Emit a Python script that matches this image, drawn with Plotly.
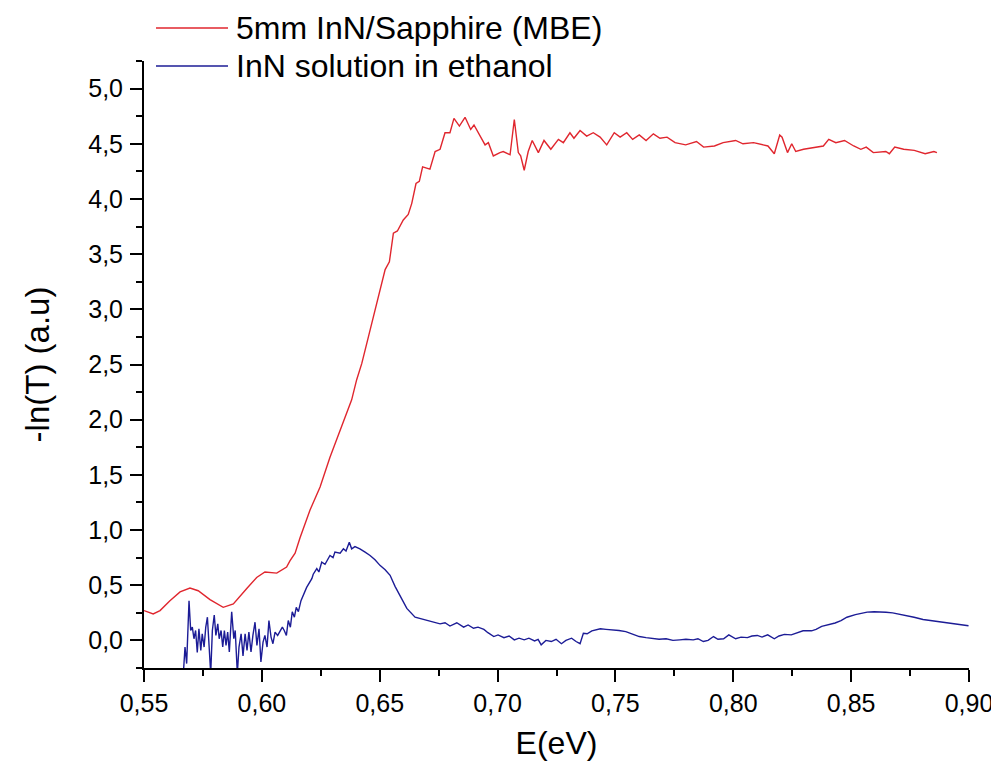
import plotly.graph_objects as go

# ---- data ----
red_name = "5mm InN/Sapphire (MBE)"
red_x = [0.5500, 0.5539, 0.5568, 0.5610, 0.5653, 0.5695, 0.5730, 0.5780, 0.5836, 0.5879,
         0.5936, 0.5978, 0.6013, 0.6063, 0.6105, 0.6119, 0.6141, 0.6162, 0.6204, 0.6247,
         0.6289, 0.6332, 0.6360, 0.6381, 0.6402, 0.6424, 0.6452, 0.6473, 0.6490, 0.6509,
         0.6523, 0.6541, 0.6558, 0.6575, 0.6600, 0.6621, 0.6636, 0.6654, 0.6668, 0.6682,
         0.6713, 0.6735, 0.6756, 0.6777, 0.6798, 0.6815, 0.6838, 0.6862, 0.6886, 0.6900,
         0.6926, 0.6947, 0.6961, 0.6982, 0.7010, 0.7024, 0.7053, 0.7071, 0.7088, 0.7098,
         0.7113, 0.7130, 0.7147, 0.7173, 0.7197, 0.7226, 0.7258, 0.7279, 0.7307, 0.7324,
         0.7350, 0.7378, 0.7406, 0.7435, 0.7463, 0.7495, 0.7520, 0.7548, 0.7573, 0.7601,
         0.7630, 0.7661, 0.7689, 0.7719, 0.7753, 0.7798, 0.7844, 0.7874, 0.7920, 0.7957,
         0.8010, 0.8041, 0.8086, 0.8147, 0.8174, 0.8197, 0.8207, 0.8230, 0.8248, 0.8265,
         0.8298, 0.8344, 0.8382, 0.8405, 0.8435, 0.8472, 0.8511, 0.8541, 0.8564, 0.8594,
         0.8647, 0.8662, 0.8685, 0.8723, 0.8768, 0.8814, 0.8851, 0.8864]
red_y = [0.27, 0.24, 0.27, 0.36, 0.44, 0.475, 0.45, 0.37, 0.30, 0.33,
         0.47, 0.57, 0.62, 0.61, 0.665, 0.72, 0.79, 0.93, 1.18, 1.39,
         1.66, 1.91, 2.06, 2.18, 2.36, 2.51, 2.75, 2.93, 3.05, 3.24,
         3.36, 3.43, 3.69, 3.71, 3.81, 3.86, 3.96, 4.14, 4.16, 4.29,
         4.27, 4.43, 4.45, 4.60, 4.60, 4.73, 4.66, 4.74, 4.63, 4.67,
         4.57, 4.49, 4.51, 4.39, 4.42, 4.43, 4.40, 4.72, 4.42, 4.39,
         4.26, 4.43, 4.53, 4.42, 4.53, 4.45, 4.54, 4.51, 4.60, 4.55,
         4.62, 4.57, 4.60, 4.56, 4.49, 4.60, 4.56, 4.60, 4.54, 4.58,
         4.53, 4.59, 4.55, 4.56, 4.51, 4.49, 4.52, 4.47, 4.48, 4.51,
         4.53, 4.50, 4.51, 4.48, 4.41, 4.58, 4.56, 4.42, 4.50, 4.43,
         4.45, 4.47, 4.48, 4.54, 4.51, 4.53, 4.48, 4.45, 4.47, 4.42,
         4.43, 4.41, 4.47, 4.45, 4.44, 4.41, 4.43, 4.42]

blue_name = "InN solution in ethanol"
blue_x = [0.5667, 0.5674, 0.5681, 0.5691, 0.5698, 0.5705, 0.5712, 0.5719, 0.5726, 0.5733,
          0.5741, 0.5747, 0.5755, 0.5762, 0.5769, 0.5776, 0.5783, 0.5790, 0.5798, 0.5805,
          0.5813, 0.5819, 0.5827, 0.5834, 0.5841, 0.5848, 0.5855, 0.5862, 0.5872, 0.5881,
          0.5887, 0.5896, 0.5903, 0.5912, 0.5920, 0.5929, 0.5937, 0.5945, 0.5954, 0.5962,
          0.5971, 0.5979, 0.5988, 0.5996, 0.6005, 0.6013, 0.6022, 0.6030, 0.6039, 0.6047,
          0.6056, 0.6067, 0.6078, 0.6087, 0.6095, 0.6104, 0.6112, 0.6121, 0.6129, 0.6138,
          0.6146, 0.6155, 0.6166, 0.6176, 0.6190, 0.6212, 0.6218, 0.6233, 0.6242, 0.6254,
          0.6268, 0.6289, 0.6302, 0.6310, 0.6332, 0.6346, 0.6357, 0.6371, 0.6381, 0.6395,
          0.6416, 0.6438, 0.6459, 0.6480, 0.6501, 0.6523, 0.6544, 0.6565, 0.6586, 0.6615,
          0.6650, 0.6699, 0.6726, 0.6756, 0.6777, 0.6798, 0.6827, 0.6856, 0.6875, 0.6898,
          0.6917, 0.6942, 0.6959, 0.6984, 0.7002, 0.7027, 0.7049, 0.7071, 0.7091, 0.7113,
          0.7133, 0.7157, 0.7172, 0.7185, 0.7205, 0.7228, 0.7248, 0.7271, 0.7290, 0.7314,
          0.7333, 0.7350, 0.7364, 0.7380, 0.7400, 0.7436, 0.7460, 0.7486, 0.7515, 0.7544,
          0.7570, 0.7601, 0.7630, 0.7658, 0.7685, 0.7715, 0.7744, 0.7773, 0.7799, 0.7830,
          0.7850, 0.7873, 0.7893, 0.7916, 0.7935, 0.7959, 0.7981, 0.8010, 0.8033, 0.8060,
          0.8079, 0.8102, 0.8122, 0.8146, 0.8174, 0.8194, 0.8217, 0.8246, 0.8270, 0.8296,
          0.8332, 0.8351, 0.8375, 0.8402, 0.8432, 0.8457, 0.8482, 0.8518, 0.8542, 0.8568,
          0.8597, 0.8626, 0.8648, 0.8676, 0.8703, 0.8733, 0.8767, 0.8805, 0.8839, 0.8877,
          0.8911, 0.8948, 0.8970, 0.8998]
blue_y = [-0.30, -0.06, -0.21, 0.36, 0.09, 0.12, 0.015, 0.09, -0.11, 0.105,
          -0.09, 0.06, -0.06, 0.12, 0.21, -0.06, -0.30, 0.09, 0.23, 0.045,
          0.15, 0.015, 0.09, -0.06, 0.09, -0.045, 0.075, -0.105, 0.26, 0.015,
          0.09, -0.30, -0.06, 0.06, -0.14, 0.06, -0.09, 0.075, -0.105, 0.045,
          0.165, -0.045, 0.105, -0.195, -0.015, 0.045, -0.06, 0.18, 0.03, -0.03,
          0.075, 0.045, 0.09, 0.12, 0.09, 0.045, 0.18, 0.12, 0.26, 0.21,
          0.30, 0.26, 0.36, 0.41, 0.48, 0.56, 0.60, 0.65, 0.62, 0.71,
          0.69, 0.77, 0.75, 0.80, 0.79, 0.83, 0.81, 0.89, 0.83, 0.85,
          0.83, 0.80, 0.77, 0.73, 0.68, 0.64, 0.59, 0.49, 0.41, 0.29,
          0.21, 0.18, 0.17, 0.15, 0.16, 0.13, 0.16, 0.12, 0.14, 0.11,
          0.12, 0.10, 0.07, 0.035, 0.05, 0.025, 0.04, 0.005, 0.02, 0.005,
          0.02, -0.005, 0.01, -0.04, 0.0, -0.01, 0.01, -0.03, 0.0, 0.02,
          -0.01, -0.03, 0.065, 0.06, 0.087, 0.105, 0.10, 0.096, 0.09, 0.08,
          0.06, 0.035, 0.025, 0.02, 0.01, 0.015, 0.0, 0.005, 0.01, 0.005,
          0.015, -0.01, 0.0, 0.035, 0.01, 0.015, 0.05, 0.015, 0.03, 0.025,
          0.04, 0.045, 0.03, 0.05, 0.015, 0.04, 0.055, 0.05, 0.07, 0.087,
          0.087, 0.10, 0.127, 0.14, 0.158, 0.18, 0.21, 0.234, 0.245, 0.256,
          0.26, 0.26, 0.255, 0.25, 0.24, 0.225, 0.21, 0.19, 0.18, 0.17,
          0.16, 0.15, 0.14, 0.133]

x_title = "E(eV)"
y_title = "-ln(T) (a.u)"

RED = "#e0262e"
BLUE = "#1c1c96"
FONT = "Arial, Liberation Sans, sans-serif"

# The page body has an 8 px margin; figure sized to end at the window's right edge.
OFF = 8
W, H = 991, 754
L, R, T, B = 136, 30, 53, 94
pw, ph = W - L - R, H - T - B

def px_to_paper_x(px):  # px in window coordinates
    return (px - OFF - L) / pw

def px_to_paper_y(py):
    return (H - B - (py - OFF)) / ph

fig = go.Figure()
fig.add_trace(go.Scatter(x=red_x, y=red_y, mode="lines", name=red_name,
                         line=dict(color=RED, width=1.4), showlegend=False))
fig.add_trace(go.Scatter(x=blue_x, y=blue_y, mode="lines", name=blue_name,
                         line=dict(color=BLUE, width=1.4), showlegend=False))

# manual legend (Origin style: long line sample)
legend_items = [(red_name, RED, 28), (blue_name, BLUE, 66)]
for name, col, py in legend_items:
    fig.add_shape(type="line", xref="paper", yref="paper",
                  x0=px_to_paper_x(156), x1=px_to_paper_x(228),
                  y0=px_to_paper_y(py), y1=px_to_paper_y(py),
                  line=dict(color=col, width=1.4))
    fig.add_annotation(text=name, xref="paper", yref="paper",
                       x=px_to_paper_x(235), y=px_to_paper_y(py),
                       xanchor="left", yanchor="middle", showarrow=False,
                       borderpad=0,
                       font=dict(family=FONT, size=32, color="black"))

axis_common = dict(showline=True, linecolor="black", linewidth=2, mirror=False,
                   showgrid=False, zeroline=False, ticks="outside", ticklen=12,
                   tickwidth=2, tickcolor="black", ticklabeloverflow="allow",
                   tickfont=dict(family=FONT, size=25, color="black"))

fig.update_xaxes(range=[0.55, 0.90], tick0=0.55, dtick=0.05, tickformat=".2f",
                 minor=dict(ticks="outside", ticklen=6, tickwidth=2, tickcolor="black",
                            dtick=0.025, tick0=0.55, showgrid=False),
                 title=dict(text=x_title, font=dict(family=FONT, size=32, color="black"),
                            standoff=16),
                 **axis_common)
fig.update_yaxes(range=[-0.25, 5.25], tick0=0, dtick=0.5, tickformat=".1f",
                 minor=dict(ticks="outside", ticklen=6, tickwidth=2, tickcolor="black",
                            dtick=0.25, tick0=0.25, showgrid=False),
                 ticklabelstandoff=2,
                 title=dict(text=y_title, font=dict(family=FONT, size=33, color="black"),
                            standoff=29),
                 **axis_common)

fig.update_layout(width=W, height=H, margin=dict(l=L, r=R, t=T, b=B, autoexpand=False),
                  paper_bgcolor="white", plot_bgcolor="white", separators=", ",
                  font=dict(family=FONT, color="black"))

fig.write_html("out.html")
